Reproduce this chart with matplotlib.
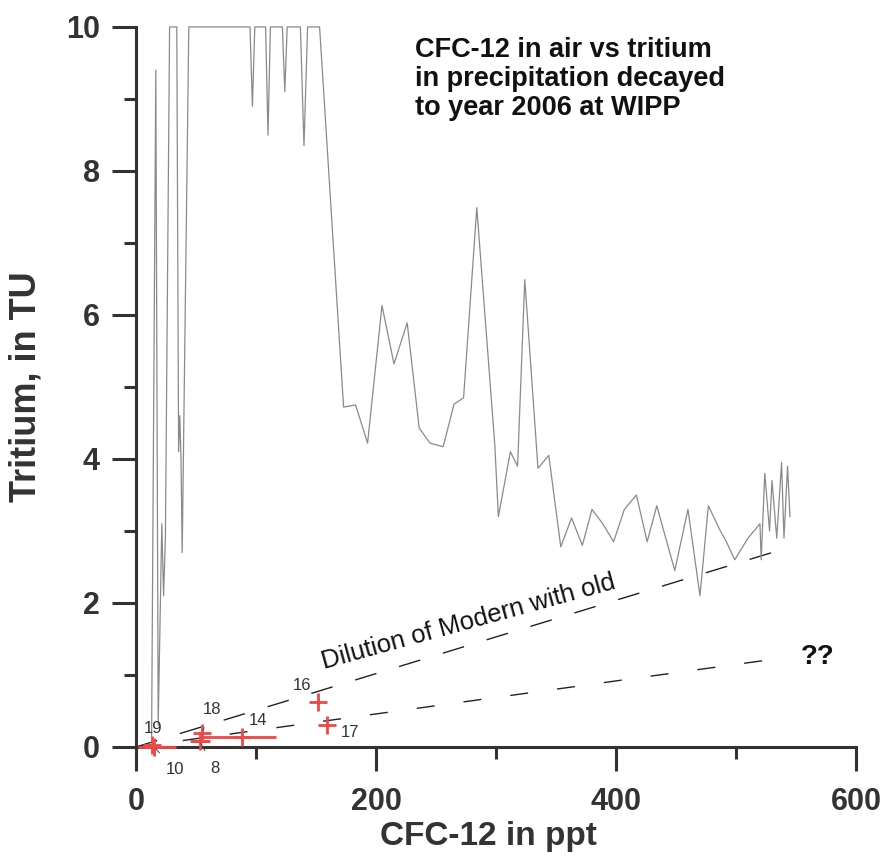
import numpy as np
import matplotlib.pyplot as plt

plt.rcParams['font.family'] = ['Liberation Sans', 'DejaVu Sans']

# CFC-12 in air (ppt) vs tritium in precipitation decayed to 2006 (TU)
cfc_air = [13, 16.5, 18.5, 21.5, 23, 24.5, 28, 34, 35.5, 36.5, 37.5, 38.5, 44,
           95, 97, 99, 108, 110, 112, 122, 124, 126, 137, 140, 143, 153,
           173, 183, 193, 205, 215, 226, 236, 245, 256, 265, 273, 284,
           299, 302, 312, 318, 324, 335, 344, 354, 363, 372, 380, 389,
           398, 407, 417, 426, 434, 449, 460, 470, 477, 487, 492, 499,
           510, 520, 521, 524, 528, 530, 534, 538, 540, 543, 545]
tritium_air = [0.15, 9.4, 0.3, 3.1, 2.1, 2.9, 10, 10, 4.1, 4.6, 4.0, 2.7, 10,
               10, 8.9, 10, 10, 8.5, 10, 10, 9.1, 10, 10, 8.35, 10, 10,
               4.72, 4.75, 4.22, 6.13, 5.32, 5.89, 4.43, 4.22, 4.17, 4.76, 4.85, 7.49,
               4.2, 3.2, 4.1, 3.9, 6.49, 3.87, 4.05, 2.78, 3.18, 2.8, 3.3, 3.1,
               2.85, 3.3, 3.5, 2.85, 3.35, 2.45, 3.3, 2.1, 3.35, 3.0, 2.85, 2.6,
               2.9, 3.1, 2.6, 3.8, 3.0, 3.7, 2.9, 3.95, 2.9, 3.9, 3.2]

# WIPP samples
sample_ids = ['19', '10', '18', '8', '14', '16', '17']
sample_cfc = [13, 15, 55, 53, 88, 152, 159]
sample_tritium = [0.03, 0.0, 0.2, 0.08, 0.14, 0.62, 0.31]
sample_cfc_err_lo = [0, 13, 0, 8, 35, 0, 0]
sample_cfc_err_hi = [0, 18, 0, 9, 29, 0, 0]

# mixing lines
dilution_cfc = [0, 530]
dilution_tritium = [0, 2.7]
unknown_cfc = [0, 545]
unknown_tritium = [0, 1.25]

label_offsets = [(1, 11.5), (15, -16), (7, 16.5), (11, -19.5), (11.5, 11.5), (-11.5, 12), (16.5, -6)]
leaders = ['10', '8', '18']

dark = '#333333'
red = '#ee4848'

fig = plt.figure(figsize=(8.86, 8.58), dpi=100)
ax = fig.add_axes([0.1535, 0.1294, 0.8126, 0.8392])

ax.plot(cfc_air, tritium_air, color='#8a8a8a', lw=0.9, clip_on=False, zorder=2)

ax.plot(dilution_cfc, dilution_tritium, color='#222222', lw=1.0,
        linestyle=(0, (16, 17)), zorder=1)
ax.plot(unknown_cfc, unknown_tritium, color='#222222', lw=1.0,
        linestyle=(0, (13, 21)), zorder=1)

ax.errorbar(sample_cfc, sample_tritium, xerr=[sample_cfc_err_lo, sample_cfc_err_hi],
            fmt='+', color=red, ms=13, mew=2.0, elinewidth=2.0, capsize=0,
            clip_on=False, zorder=4)

for sid, x, y, off in zip(sample_ids, sample_cfc, sample_tritium, label_offsets):
    arrow = None
    if sid in leaders:
        arrow = dict(arrowstyle='-', color='#444444', lw=0.7, shrinkA=6, shrinkB=2)
    ax.annotate(sid, (x, y), xytext=off, textcoords='offset points',
                ha='center', va='center', fontsize=12, color=dark,
                arrowprops=arrow, zorder=5, annotation_clip=False)

ax.text(277, 1.74, 'Dilution of Modern with old', rotation=15.4,
        rotation_mode='anchor', ha='center', va='center', fontsize=18.5, color='#111111')
ax.text(568, 1.25, '??', ha='center', va='center', fontsize=20,
        fontweight='bold', color='#111111')

ax.text(232.5, 9.86, 'CFC-12 in air vs tritium\nin precipitation decayed\nto year 2006 at WIPP',
        ha='left', va='top', fontsize=19.5, fontweight='bold', color='#111111',
        linespacing=1.15)

ax.set_xlim(0, 600)
ax.set_ylim(0, 10)
ax.set_xticks([0, 200, 400, 600])
ax.set_xticks([100, 300, 500], minor=True)
ax.set_yticks([0, 2, 4, 6, 8, 10])
ax.set_yticks([1, 3, 5, 7, 9], minor=True)

for s in ['top', 'right']:
    ax.spines[s].set_visible(False)
for s in ['left', 'bottom']:
    ax.spines[s].set_linewidth(2.2)
    ax.spines[s].set_color(dark)

ax.tick_params(which='major', direction='out', length=17, width=2.2, color=dark,
               labelsize=22, labelcolor=dark)
ax.tick_params(which='minor', direction='out', length=8.5, width=2.2, color=dark)
ax.tick_params(axis='y', which='major', pad=9)
ax.tick_params(axis='x', which='major', pad=12)
for lab in ax.get_xticklabels() + ax.get_yticklabels():
    lab.set_fontweight('bold')

ax.set_xlabel('CFC-12 in ppt', fontsize=24, fontweight='bold', color=dark)
ax.set_ylabel('Tritium, in TU', fontsize=26, fontweight='bold', color=dark)
ax.xaxis.set_label_coords(0.49, -0.103)
ax.yaxis.set_label_coords(-0.128, 0.5)

fig.savefig('out.png', dpi=100)
